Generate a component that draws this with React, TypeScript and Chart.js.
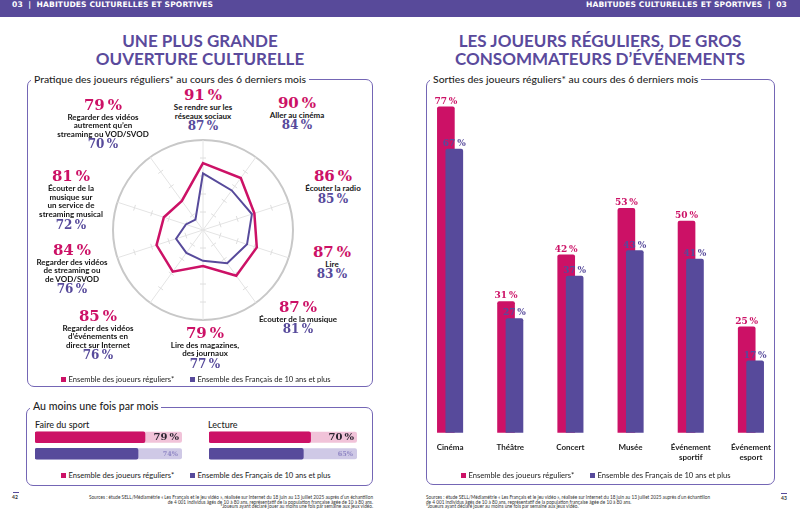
import React, { useEffect, useRef } from "react";
import { Chart, registerables } from "chart.js";

Chart.register(...registerables);

// ---------- DATA ----------
const legendLabels = ["Ensemble des joueurs réguliers*", "Ensemble des Français de 10 ans et plus"];

// Radar: "Pratique des joueurs réguliers* au cours des 6 derniers mois" (clockwise from top)
const radarActivities = [
  "Se rendre sur les réseaux sociaux",
  "Aller au cinéma",
  "Écouter la radio",
  "Lire",
  "Écouter de la musique",
  "Lire des magazines, des journaux",
  "Regarder des vidéos d’événements en direct sur Internet",
  "Regarder des vidéos de streaming ou de VOD/SVOD",
  "Écouter de la musique sur un service de streaming musical",
  "Regarder des vidéos autrement qu’en streaming ou VOD/SVOD",
];
const radarActivityLines = [
  ["Se rendre sur les", "réseaux sociaux"],
  ["Aller au cinéma"],
  ["Écouter la radio"],
  ["Lire"],
  ["Écouter de la musique"],
  ["Lire des magazines,", "des journaux"],
  ["Regarder des vidéos", "d’événements en", "direct sur Internet"],
  ["Regarder des vidéos", "de streaming ou", "de VOD/SVOD"],
  ["Écouter de la", "musique sur", "un service de", "streaming musical"],
  ["Regarder des vidéos", "autrement qu’en", "streaming ou VOD/SVOD"],
];
const radarPlayers = [91, 90, 86, 87, 87, 79, 85, 84, 81, 79];
const radarFrench = [87, 84, 85, 83, 81, 77, 76, 76, 72, 70];

// "Au moins une fois par mois"
const monthlyActivities = ["Faire du sport", "Lecture"];
const monthlyPlayers = [79, 70];
const monthlyFrench = [74, 65];

// "Sorties des joueurs réguliers* au cours des 6 derniers mois"
const outingCategories = [["Cinéma"], ["Théâtre"], ["Concert"], ["Musée"], ["Événement", "sportif"], ["Événement", "esport"]];
const outingPlayers = [77, 31, 42, 53, 50, 25];
const outingFrench = [67, 27, 37, 43, 41, 17];

// ---------- STYLE / LAYOUT ----------
const PINK = "#cc1166";
const PURPLE = "#574a9b";
const PINK_LIGHT = "#f1c3d9";
const PURPLE_LIGHT = "#cfc9e6";
const HEADER = "#584a9a";
const TITLE = "#5a4a9c";
const BORDER = "#7466b5";
const SANS = "Lato, 'Open Sans', sans-serif";
const SERIF = "'DejaVu Serif', serif";

// label block centres [x, y of pink number] for radar activities
const RADAR_LABEL_POS: [number, number][] = [
  [203, 95.5], [297, 103.3], [333, 176.5], [332, 252], [298, 307.3],
  [205, 333.3], [98, 316], [72, 250], [71, 176.7], [103, 105],
];

const pct = (v: number) => `${v}\u2009%`;

function ChartCanvas({ left, top, width, height, config }: any) {
  const ref = useRef<HTMLCanvasElement>(null);
  useEffect(() => {
    const chart = new Chart(ref.current!, config());
    return () => chart.destroy();
  }, []);
  return (
    <canvas
      ref={ref}
      width={width}
      height={height}
      style={{ position: "absolute", left, top, width, height, display: "block" }}
    />
  );
}

// ---------- RADAR ----------
const radarConfig = () => {
  const spokeTicks = {
    id: "spokeTicks",
    beforeDatasetsDraw(chart: any) {
      const s = chart.scales.r;
      const ctx = chart.ctx;
      ctx.save();
      ctx.strokeStyle = "#dedede";
      ctx.lineWidth = 1;
      const n = chart.data.labels.length;
      for (let i = 0; i < n; i++) {
        const a = s.getIndexAngle(i) - Math.PI / 2;
        const px = -Math.sin(a), py = Math.cos(a);
        for (const v of [72, 79, 86, 93]) {
          const p = s.getPointPositionForValue(i, v);
          ctx.beginPath();
          ctx.moveTo(p.x - px * 3, p.y - py * 3);
          ctx.lineTo(p.x + px * 3, p.y + py * 3);
          ctx.stroke();
        }
      }
      ctx.restore();
    },
  };
  return {
    type: "radar",
    data: {
      labels: radarActivities,
      datasets: [
        { label: legendLabels[0], data: radarPlayers, borderColor: PINK, borderWidth: 2.5, fill: false, pointRadius: 0, borderJoinStyle: "miter" },
        { label: legendLabels[1], data: radarFrench, borderColor: PURPLE, borderWidth: 2, fill: false, pointRadius: 0, borderJoinStyle: "miter" },
      ],
    },
    options: {
      animation: false,
      responsive: false,
      layout: { padding: 5 },
      scales: {
        r: {
          min: 65,
          max: 100,
          ticks: { display: false, stepSize: 35 },
          pointLabels: { display: false },
          grid: { circular: true, color: "#c8c8c8", lineWidth: 2 },
          angleLines: { color: "#e4e4e4", lineWidth: 1 },
        },
      },
      plugins: { legend: { display: false }, tooltip: { enabled: false } },
    },
    plugins: [spokeTicks],
  };
};

// ---------- MONTHLY BARS ----------
const monthlyConfig = (idx: number, max: number) => () => {
  const tracks = [PINK_LIGHT, PURPLE_LIGHT];
  const trackPlugin = {
    id: "tracks",
    beforeDatasetsDraw(chart: any) {
      const ctx = chart.ctx;
      const right = chart.chartArea.right;
      chart.getDatasetMeta(0).data.forEach((el: any, j: number) => {
        const { y, base, height } = el.getProps(["y", "base", "height"], true);
        ctx.save();
        ctx.fillStyle = tracks[j];
        ctx.beginPath();
        ctx.roundRect(base, y - height / 2, right - base, height, 2);
        ctx.fill();
        ctx.restore();
      });
    },
    afterDatasetsDraw(chart: any) {
      const ctx = chart.ctx;
      const right = chart.chartArea.right;
      const vals = chart.data.datasets[0].data;
      chart.getDatasetMeta(0).data.forEach((el: any, j: number) => {
        const { y } = el.getProps(["y"], true);
        ctx.save();
        ctx.textAlign = "right";
        ctx.textBaseline = "middle";
        if (j === 0) {
          ctx.font = `bold 10px ${SERIF}`;
          ctx.fillStyle = "#2a2430";
          ctx.fillText(pct(vals[j]), right - 3, y + 0.5);
        } else {
          ctx.font = `bold 6.5px ${SERIF}`;
          ctx.fillStyle = "#8f86c4";
          ctx.fillText(`${vals[j]}%`, right - 4, y + 0.5);
        }
        ctx.restore();
      });
    },
  };
  return {
    type: "bar",
    data: {
      labels: legendLabels,
      datasets: [
        {
          label: monthlyActivities[idx],
          data: [monthlyPlayers[idx], monthlyFrench[idx]],
          backgroundColor: [PINK, PURPLE],
          barThickness: 11,
          borderRadius: 2,
          borderSkipped: false,
        },
      ],
    },
    options: {
      indexAxis: "y",
      animation: false,
      responsive: false,
      layout: { padding: 0 },
      scales: { x: { min: 0, max, display: false }, y: { display: false } },
      plugins: { legend: { display: false }, tooltip: { enabled: false } },
    },
    plugins: [trackPlugin],
  };
};

// ---------- OUTINGS COLUMNS ----------
const BAR_SHIFT = 0.07;
const outingsConfig = () => {
  const valueLabels = {
    id: "valueLabels",
    afterDatasetsDraw(chart: any) {
      const ctx = chart.ctx;
      // pink (dataset 1) first, then purple (dataset 0) on top
      [1, 0].forEach((di) => {
        const ds = chart.data.datasets[di];
        chart.getDatasetMeta(di).data.forEach((el: any, j: number) => {
          const { x, y } = el.getProps(["x", "y"], true);
          ctx.save();
          ctx.font = `bold 9px ${SERIF}`;
          ctx.fillStyle = ds.backgroundColor;
          ctx.textAlign = "center";
          ctx.textBaseline = "bottom";
          ctx.fillText(pct(ds.data[j].y), x, y - 1);
          ctx.restore();
        });
      });
    },
  };
  return {
    type: "bar",
    data: {
      labels: outingCategories,
      datasets: [
        {
          label: legendLabels[1],
          data: outingFrench.map((v, i) => ({ x: i + BAR_SHIFT, y: v })),
          backgroundColor: PURPLE,
          xAxisID: "x",
          yAxisID: "y",
        },
        {
          label: legendLabels[0],
          data: outingPlayers.map((v, i) => ({ x: i - BAR_SHIFT, y: v })),
          backgroundColor: PINK,
          xAxisID: "x",
          yAxisID: "y",
        },
      ],
    },
    options: {
      animation: false,
      responsive: false,
      layout: { padding: { top: 6, left: 0, right: 0, bottom: 0 } },
      datasets: {
        bar: {
          grouped: false,
          barThickness: 17,
          borderRadius: { topLeft: 2, topRight: 2 },
          borderSkipped: "bottom",
        },
      },
      scales: {
        x: { type: "linear", min: -0.5, max: 5.5, offset: false, display: false },
        xc: {
          type: "category",
          position: "bottom",
          offset: true,
          grid: { display: false, drawTicks: false },
          border: { display: false },
          ticks: {
            padding: 10,
            autoSkip: false,
            maxRotation: 0,
            color: "#1d1d1d",
            font: { family: SANS, weight: "bold", size: 8 },
          },
        },
        y: { min: 0, max: 80, display: false },
      },
      plugins: { legend: { display: false }, tooltip: { enabled: false } },
    },
    plugins: [valueLabels],
  };
};

// ---------- HTML PIECES ----------
function Box({ left, top, width, height, title, titleSize = 10.4 }: any) {
  return (
    <div
      style={{
        position: "absolute", left, top, width, height, boxSizing: "border-box",
        border: `1.5px solid ${BORDER}`, borderRadius: 7,
      }}
    >
      <div
        style={{
          position: "absolute", left: 3, top: -titleSize * 0.72, background: "#fff",
          padding: "0 3px", font: `500 ${titleSize}px ${SANS}`, color: "#1f1f1f",
          lineHeight: `${titleSize * 1.3}px`, whiteSpace: "nowrap",
        }}
      >
        {title}
      </div>
    </div>
  );
}

function Legend({ left, top, gap }: any) {
  const colors = [PINK, PURPLE];
  return (
    <>
      {legendLabels.map((l, i) => (
        <div key={i} style={{ position: "absolute", left: left + (i === 0 ? 0 : gap), top, height: 9, display: "flex", alignItems: "center", whiteSpace: "nowrap" }}>
          <div style={{ width: 5, height: 5, background: colors[i], marginRight: 2.5 }} />
          <span style={{ font: `400 7.6px ${SANS}`, color: "#222", lineHeight: "9px" }}>{l}</span>
        </div>
      ))}
    </>
  );
}

function RadarLabel({ i }: { i: number }) {
  const [x, y] = RADAR_LABEL_POS[i];
  return (
    <div style={{ position: "absolute", left: x, top: y - 7.5, transform: "translateX(-50%)", textAlign: "center", whiteSpace: "nowrap" }}>
      <div style={{ font: `bold 15px ${SERIF}`, color: PINK, lineHeight: "15px" }}>{pct(radarPlayers[i])}</div>
      {radarActivityLines[i].map((ln, k) => (
        <div key={k} style={{ font: `bold 8px ${SANS}`, color: "#151515", lineHeight: "8.6px" }}>{ln}</div>
      ))}
      <div style={{ font: `bold 12px ${SERIF}`, color: PURPLE, lineHeight: "13.5px" }}>{pct(radarFrench[i])}</div>
    </div>
  );
}

const footLines = [
  "Sources : étude SELL/Médiamétrie « Les Français et le jeu vidéo », réalisée sur Internet du 18 juin au 13 juillet 2025 auprès d’un échantillon",
  "de 4 001 individus âgés de 10 à 80 ans, représentatif de la population française âgée de 10 à 80 ans.",
  "*Joueurs ayant déclaré jouer au moins une fois par semaine aux jeux vidéo.",
];

function Footnote({ side }: { side: "left" | "right" }) {
  const style: any = {
    position: "absolute", top: 495, font: `400 4.7px ${SANS}`, color: "#333", lineHeight: "4.7px", whiteSpace: "nowrap",
  };
  if (side === "left") { style.right = 800 - 373; style.textAlign = "right"; }
  else { style.left = 426; style.textAlign = "left"; }
  return <div style={style}>{footLines.map((l, i) => <div key={i}>{l}</div>)}</div>;
}

const headerFont = { font: `bold 7.6px 'DejaVu Sans', sans-serif`, letterSpacing: "0.1px" };

export default function App() {
  return (
    <div style={{ position: "absolute", left: 0, top: 0, width: 800, height: 516, overflow: "hidden", background: "#fff", fontFamily: SANS }}>
      {/* header band */}
      <div style={{ position: "absolute", left: 0, top: 0, width: 800, height: 17, background: HEADER }} />
      <div style={{ position: "absolute", left: 12, top: 0, lineHeight: "18px", ...headerFont, color: "#fff", whiteSpace: "nowrap" }}>
        03&nbsp;&nbsp;|&nbsp;&nbsp;HABITUDES CULTURELLES ET SPORTIVES
      </div>
      <div style={{ position: "absolute", right: 13, top: 0, lineHeight: "18px", ...headerFont, color: "#fff", whiteSpace: "nowrap" }}>
        HABITUDES CULTURELLES ET SPORTIVES&nbsp;&nbsp;|&nbsp;&nbsp;03
      </div>

      {/* titles */}
      <div style={{ position: "absolute", left: 0, top: 32, width: 400, textAlign: "center", font: `bold 17px ${SANS}`, lineHeight: "18px", color: TITLE }}>
        UNE PLUS GRANDE<br />OUVERTURE CULTURELLE
      </div>
      <div style={{ position: "absolute", left: 400, top: 32, width: 400, textAlign: "center", font: `bold 17px ${SANS}`, lineHeight: "18px", color: TITLE }}>
        LES JOUEURS RÉGULIERS, DE GROS<br />CONSOMMATEURS D’ÉVÉNEMENTS
      </div>

      {/* radar box */}
      <Box left={27} top={79} width={346} height={308} title="Pratique des joueurs réguliers* au cours des 6 derniers mois" />
      <ChartCanvas left={108} top={135} width={190} height={190} config={radarConfig} />
      {radarActivities.map((_, i) => <RadarLabel key={i} i={i} />)}
      <Legend left={61} top={375} gap={129} />

      {/* monthly box */}
      <Box left={26} top={407} width={347} height={79} title="Au moins une fois par mois" titleSize={10.6} />
      <div style={{ position: "absolute", left: 35, top: 418.5, font: `500 9px ${SANS}`, color: "#1f1f1f", lineHeight: "11px" }}>{monthlyActivities[0]}</div>
      <div style={{ position: "absolute", left: 208, top: 418.5, font: `500 9px ${SANS}`, color: "#1f1f1f", lineHeight: "11px" }}>{monthlyActivities[1]}</div>
      <ChartCanvas left={35} top={429} width={147} height={33} config={monthlyConfig(0, 105.6)} />
      <ChartCanvas left={209} top={429} width={148} height={33} config={monthlyConfig(1, 102)} />
      <Legend left={61} top={471} gap={129} />

      {/* outings box */}
      <Box left={426} top={79} width={349} height={406} title="Sorties des joueurs réguliers* au cours des 6 derniers mois" />
      <ChartCanvas left={420} top={88} width={361} height={384} config={outingsConfig} />
      <Legend left={461} top={471} gap={129} />

      {/* footnotes & page numbers */}
      <Footnote side="left" />
      <Footnote side="right" />
      <div style={{ position: "absolute", left: 13, top: 492, width: 6, height: 1, background: PURPLE }} />
      <div style={{ position: "absolute", left: 12, top: 494, font: `bold 5px ${SANS}`, color: "#333", lineHeight: "6px" }}>42</div>
      <div style={{ position: "absolute", left: 781, top: 493, width: 6, height: 1, background: PURPLE }} />
      <div style={{ position: "absolute", left: 781, top: 495, font: `bold 5px ${SANS}`, color: "#333", lineHeight: "6px" }}>43</div>
    </div>
  );
}
